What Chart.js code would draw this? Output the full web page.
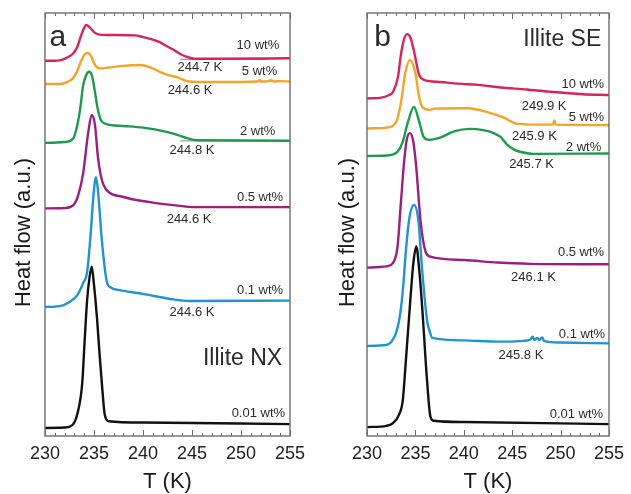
<!DOCTYPE html>
<html><head><meta charset="utf-8">
<script src="https://cdn.jsdelivr.net/npm/chart.js@4.4.0/dist/chart.umd.min.js"></script>
<style>
html,body{margin:0;padding:0;background:#fff;width:631px;height:494px;overflow:hidden}
#wa{position:absolute;left:0;top:0;width:320px;height:494px}
#wb{position:absolute;left:320px;top:0;width:311px;height:494px}
canvas{display:block}
</style></head><body>
<div id="wa"><canvas id="ca" width="320" height="494"></canvas></div>
<div id="wb"><canvas id="cb" width="311" height="494"></canvas></div>
<script>
// ---------- x axis (temperature, K) ----------
const xTickLabels = [230, 235, 240, 245, 250, 255];

// ---------- Panel a : Illite NX (heat flow, a.u.) ----------
const a10T = [230,231,231.5,232.2,232.9,233.3,233.6,233.9,234.2,234.6,235.1,235.6,237,239.2,240,240.7,241.7,242.4,243.1,243.8,244.5,245.3,248,255];
const a10Y = [88.7,88.7,88.8,89.4,90.5,92.0,94.1,96.0,97.2,96.5,95.3,94.9,94.8,94.7,94.3,93.9,93.1,92.2,91.3,90.3,89.6,89.2,89.2,89.3];
const a5T = [230,231.5,232.3,232.86,233.3,233.6,234.0,234.35,234.7,235.1,235.6,236.5,238,239.7,240.7,241.7,242.6,243.5,244.5,246,249,251.6,251.9,252.1,252.8,253.1,253.3,254,255];
const a5Y = [83.2,83.2,83.7,84.6,86.3,88.2,90.1,90.6,89.8,87.7,86.9,87.1,87.5,87.7,87.2,86.1,85.3,84.8,83.9,83.7,83.7,83.8,84.1,83.8,83.9,84.1,83.8,83.9,83.8];
const a2T = [230,232,232.9,233.3,233.6,233.9,234.2,234.5,234.8,235.1,235.4,235.7,236.2,238,240,242.4,243.5,244.5,245.5,255];
const a2Y = [69.3,69.5,70.4,73.5,77.5,83.0,85.3,86.1,85.1,81.3,77.1,74.7,73.8,73.3,72.9,71.9,71.2,70.4,69.9,69.8];
const a05T = [230,232,232.9,233.4,233.9,234.4,234.77,235.1,235.4,235.8,236.2,238,240.7,243.8,245,255];
const a05Y = [53.8,53.9,54.6,57.0,62.2,71.6,75.9,73.5,66.0,60.5,58.4,56.5,55.3,54.4,54.1,54.1];
const a01T = [230,231.5,232.5,233.3,233.9,234.3,234.65,234.95,235.2,235.4,235.8,236.3,236.8,237.6,240,242.8,244.8,255];
const a01Y = [30.5,30.7,31.7,33.3,36.2,38.8,47.5,57.0,61.2,58.2,46.3,36.6,35.0,34.5,33.6,32.4,31.9,32.0];
const a001T = [230,232,232.8,233.3,233.8,234.05,234.3,234.55,234.77,235.0,235.3,235.55,235.8,236.1,236.5,240,255];
const a001Y = [1.9,2.0,2.6,5.2,12.5,22.7,32.2,37.6,40.0,35.7,28.1,19.9,12.5,5.0,3.5,3.2,2.8];
// baseline tangents (grey) under the 10, 5 and 2 wt% curves
const aBaseT = [[243.8,252.7],[244.5,252.7],[243.8,252.8]];
const aBaseY = [[89.05,89.05],[83.75,83.75],[69.75,69.75]];

// ---------- Panel b : Illite SE (heat flow, a.u.) ----------
const b10T = [230,231.5,232.3,232.7,233.2,233.5,233.8,234.15,234.5,234.9,235.35,235.9,237.5,239.4,241.5,243.8,246.5,248.8,252.3,255];
const b10Y = [79.8,80.0,80.6,81.4,84.9,90.1,93.6,95.0,94.1,90.5,85.6,84.2,83.7,83.3,83.0,82.4,81.9,81.4,80.8,80.6];
const b5T = [230,232,232.6,233.1,233.55,233.95,234.45,235.0,235.35,235.7,236.5,237.0,240.4,242.7,244.2,245.5,248.8,249.2,249.35,249.5,255];
const b5Y = [72.7,72.9,73.2,74.7,79.4,85.8,88.9,85.8,80.6,77.8,77.1,77.4,77.5,76.4,75.2,73.8,73.6,73.6,74.6,73.6,73.5];
const b2T = [230,232,232.6,233.2,233.7,234.2,234.85,235.35,235.85,236.4,237.4,239,240.6,242,243.1,243.8,244.5,245.2,245.8,247.2,255];
const b2Y = [66.2,66.3,66.5,67.3,69.6,74.0,77.8,74.7,70.7,70.0,70.4,72.0,72.6,72.3,71.6,70.7,68.8,67.7,67.2,66.7,66.8];
const b05T = [230,232,232.65,233.15,233.5,233.85,234.1,234.42,234.75,235.05,235.55,236.05,236.55,240,243.5,246.8,255];
const b05Y = [39.8,40.1,40.8,44.7,55.1,65.2,70.0,71.6,70.0,64.5,50.4,43.6,42.4,41.6,41.0,40.7,40.6];
const b01T = [230,232,232.65,233.1,233.45,233.75,234.0,234.35,234.86,235.3,235.7,236.2,236.5,236.75,240,243.5,246.2,246.9,247.1,247.3,247.6,247.8,248.1,248.3,250,255];
const b01Y = [21.3,21.5,22.7,25.1,29.1,35.7,43.3,51.1,54.6,51.1,39.2,27.4,24.6,23.2,22.6,22.3,22.5,22.8,23.5,22.7,23.2,22.7,23.3,22.5,22.1,21.9];
const b001T = [230,232,232.65,233.3,233.7,234.0,234.5,234.8,235.09,235.4,235.7,236.2,236.55,236.9,240,255];
const b001Y = [2.1,2.4,3.0,5.0,8.5,17.3,32.9,41.1,44.8,39.2,30.5,13.2,4.6,3.6,3.3,2.8];

// ---------- styles ----------
const COL = {c10:'#d7245c', c5:'#f2a52a', c2:'#1f9a4c', c05:'#9b1f7d', c01:'#2193d0', c001:'#111111', base:'#9a9a9a'};
const FONT = '"Liberation Sans", Arial, Helvetica, sans-serif';

function pts(T, Y){ return T.map((t,i)=>({x:t, y:Y[i]})); }
function ds(T, Y, c){
  return {data: pts(T,Y), borderColor:c, borderWidth:2.4, pointRadius:0, fill:false,
          cubicInterpolationMode:'monotone'};
}
function baseDs(i){
  return {data: pts(aBaseT[i], aBaseY[i]), borderColor:COL.base, borderWidth:1.2, pointRadius:0, fill:false, order:5};
}

// annotation texts anchored in data units (T, heat flow)
const notesA = [
  ['a', 231.3, 94.1, 'center', 30],
  ['10 wt%', 253.9, 92.4, 'right', 13], ['244.7 K', 245.8, 87.2, 'center', 13],
  ['5 wt%', 253.7, 86.3, 'right', 13], ['244.6 K', 244.8, 81.8, 'center', 13],
  ['2 wt%', 253.5, 71.9, 'right', 13], ['244.8 K', 245.0, 67.6, 'center', 13],
  ['0.5 wt%', 254.3, 56.3, 'right', 13], ['244.6 K', 244.7, 51.1, 'center', 13],
  ['0.1 wt%', 254.3, 34.3, 'right', 13], ['244.6 K', 245.0, 29.3, 'center', 13],
  ['Illite NX', 254.2, 18.4, 'right', 23],
  ['0.01 wt%', 254.5, 5.4, 'right', 13]
];
const notesB = [
  ['b', 231.6, 94.1, 'center', 30],
  ['Illite SE', 254.2, 93.6, 'right', 23],
  ['10 wt%', 254.5, 83.0, 'right', 13], ['249.9 K', 248.3, 78.0, 'center', 13],
  ['5 wt%', 254.5, 75.4, 'right', 13], ['245.9 K', 247.3, 70.9, 'center', 13],
  ['2 wt%', 254.2, 68.3, 'right', 13], ['245.7 K', 247.0, 64.1, 'center', 13],
  ['0.5 wt%', 254.5, 43.3, 'right', 13], ['246.1 K', 247.2, 37.6, 'center', 13],
  ['0.1 wt%', 254.6, 24.1, 'right', 13], ['245.8 K', 245.9, 19.1, 'center', 13],
  ['0.01 wt%', 254.4, 5.2, 'right', 13]
];

function framePlugin(notes){
  return {
    id:'frame',
    afterDatasetsDraw(chart){
      const ctx = chart.ctx, ca = chart.chartArea, sx = chart.scales.x, sy = chart.scales.y;
      ctx.save();
      ctx.strokeStyle = '#6e6e6e'; ctx.lineWidth = 1.4;
      ctx.strokeRect(ca.left, ca.top, ca.right-ca.left, ca.bottom-ca.top);
      ctx.lineWidth = 1;
      for (let t = xTickLabels[0]; t <= xTickLabels[xTickLabels.length-1]; t++){
        const x = Math.round(sx.getPixelForValue(t)) + 0.5;
        const L = (t % 5 === 0) ? 6 : 3;
        ctx.beginPath();
        ctx.moveTo(x, ca.bottom); ctx.lineTo(x, ca.bottom - L);
        ctx.moveTo(x, ca.top); ctx.lineTo(x, ca.top + L);
        ctx.stroke();
      }
      ctx.fillStyle = '#2b2b2b';
      notes.forEach(n => {
        ctx.font = n[4] + 'px ' + FONT;
        ctx.textAlign = n[3]; ctx.textBaseline = 'middle';
        ctx.fillText(n[0], sx.getPixelForValue(n[1]), sy.getPixelForValue(n[2]));
      });
      ctx.fillStyle = '#1a1a1a';
      ctx.font = '22px ' + FONT;
      ctx.textAlign = 'center'; ctx.textBaseline = 'middle';
      ctx.fillText('T (K)', (ca.left+ca.right)/2, chart.height - 12);
      ctx.save();
      ctx.translate(chart.options.titleX, (ca.top+ca.bottom)/2 + chart.options.titleDY);
      ctx.rotate(-Math.PI/2);
      ctx.fillText('Heat flow (a.u.)', 0, 0);
      ctx.restore();
      ctx.restore();
    }
  };
}

function makeChart(id, sets, notes, pad, titleX, titleDY){
  return new Chart(document.getElementById(id), {
    type:'line',
    data:{datasets:sets},
    options:{
      responsive:false, animation:false, events:[],
      titleX:titleX, titleDY:titleDY,
      layout:{padding:pad},
      plugins:{legend:{display:false}, tooltip:{enabled:false}},
      scales:{
        x:{type:'linear', min:230, max:255,
           afterBuildTicks:(s)=>{ s.ticks = xTickLabels.map(v=>({value:v})); },
           afterFit:(s)=>{ s.height = 58; },
           grid:{display:false, drawTicks:false}, border:{display:false},
           ticks:{color:'#222', padding:7, font:{family:FONT, size:18}, maxRotation:0}},
        y:{type:'linear', min:0, max:100, display:false}
      }
    },
    plugins:[framePlugin(notes)]
  });
}

makeChart('ca', [
  ds(a10T,a10Y,COL.c10), ds(a5T,a5Y,COL.c5), ds(a2T,a2Y,COL.c2),
  ds(a05T,a05Y,COL.c05), ds(a01T,a01Y,COL.c01), ds(a001T,a001Y,COL.c001),
  baseDs(0), baseDs(1), baseDs(2)
], notesA, {left:45, right:30, top:13, bottom:0}, 24, 8);

makeChart('cb', [
  ds(b10T,b10Y,COL.c10), ds(b5T,b5Y,COL.c5), ds(b2T,b2Y,COL.c2),
  ds(b05T,b05Y,COL.c05), ds(b01T,b01Y,COL.c01), ds(b001T,b001Y,COL.c001)
], notesB, {left:47, right:17, top:13, bottom:0}, 28, 8);
</script>
</body></html>
